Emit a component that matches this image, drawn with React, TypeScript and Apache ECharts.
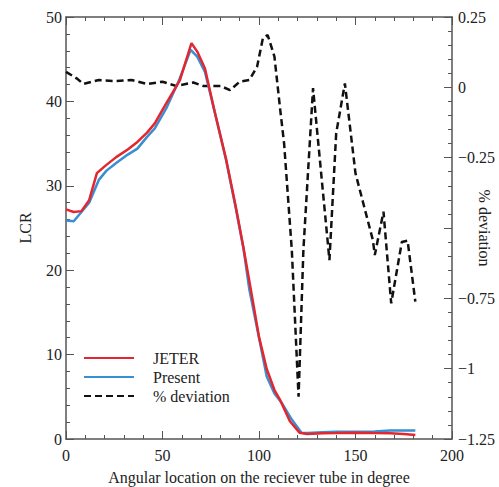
import React, { useEffect, useRef } from "react";
import * as echarts from "echarts";

const jeterX = [0, 4, 8, 12, 16, 20, 26, 32, 37, 42, 46, 52, 59, 65, 68, 72, 77, 83, 88, 92, 97, 100, 104, 108, 111, 116, 121, 125, 133, 140, 150, 160, 168, 175, 181];
const jeterY = [27.2, 26.9, 27.0, 28.3, 31.5, 32.3, 33.4, 34.3, 35.2, 36.3, 37.4, 39.8, 42.5, 46.9, 45.9, 43.9, 38.8, 33.1, 27.5, 22.6, 16.1, 12.1, 8.3, 5.8, 4.6, 2.1, 0.75, 0.6, 0.67, 0.7, 0.75, 0.7, 0.67, 0.6, 0.47];

const presentX = [0, 4, 8, 12, 17, 21, 26, 32, 37, 42, 46, 52, 58, 64.6, 68, 72, 77, 83, 88, 92, 95, 100, 104, 108, 112, 117, 122, 125, 133, 140, 150, 160, 168, 175, 181];
const presentY = [25.9, 25.8, 26.9, 28.0, 30.7, 31.8, 32.7, 33.7, 34.4, 35.8, 36.8, 39.2, 42.2, 46.1, 45.3, 43.5, 38.8, 33.0, 27.3, 22.5, 17.7, 12.0, 7.4, 5.4, 4.2, 2.3, 0.75, 0.7, 0.8, 0.85, 0.85, 0.9, 1.0, 1.0, 1.0];

const devX = [0, 5.5, 9, 17, 26, 34, 42, 50, 57, 66, 71, 80, 85, 90, 95, 99, 102, 104.5, 108, 111, 113, 117, 120.5, 123, 128, 136.5, 140, 144.5, 150, 159, 160, 164.5, 168.5, 174, 177, 181];
const devY = [0.055, 0.032, 0.012, 0.026, 0.022, 0.026, 0.012, 0.02, 0.005, 0.017, 0.005, 0.005, -0.01, 0.02, 0.026, 0.073, 0.174, 0.186, 0.109, -0.08, -0.199, -0.578, -1.1, -0.578, -0.003, -0.614, -0.163, 0.014, -0.306, -0.543, -0.596, -0.442, -0.768, -0.55, -0.545, -0.762];

const xTicks = [0, 50, 100, 150, 200];
const lcrTicks = [0, 10, 20, 30, 40, 50];
const devTicks = [-1.25, -1, -0.75, -0.5, -0.25, 0, 0.25];
// The reference hides the -0.5 label behind the axis name
const devHiddenLabels = [-0.5];

const FONT = "Liberation Serif";

const zip = (xs: number[], ys: number[]) => xs.map((x, i) => [x, ys[i]]);

export default function App() {
  const ref = useRef<HTMLDivElement>(null);
  useEffect(() => {
    if (!ref.current) return;
    const chart = echarts.init(ref.current, null, { renderer: "svg" });
    const axisLine = { show: true, onZero: false, lineStyle: { color: "#555", width: 1.5 } };
    const tick = { show: true, inside: true, length: 8, lineStyle: { color: "#555", width: 1 } };
    const minor = { show: true, splitNumber: 5, length: 4, lineStyle: { color: "#555", width: 1 } };
    const label = { color: "#222", fontFamily: FONT, fontSize: 16 };
    chart.setOption({
      animation: false,
      backgroundColor: "#fff",
      grid: {
        left: 66,
        right: 47,
        top: 17,
        bottom: 48,
        show: false,
        containLabel: false,
        outerBoundsMode: "none",
      },
      legend: {
        data: ["JETER", "Present", "% deviation"],
        orient: "vertical",
        left: 78,
        top: 345,
        itemWidth: 50,
        itemHeight: 2,
        itemGap: 3,
        textStyle: { fontFamily: FONT, fontSize: 16, color: "#222", padding: [0, 0, 0, 14] },
      },
      xAxis: [
        {
          type: "value",
          min: xTicks[0],
          max: xTicks[xTicks.length - 1],
          interval: 50,
          position: "bottom",
          name: "Angular location on the reciever tube in degree",
          nameLocation: "middle",
          nameGap: 30,
          nameMoveOverlap: false,
          nameTextStyle: { fontFamily: FONT, fontSize: 16, color: "#222" },
          axisLine,
          axisTick: tick,
          minorTick: minor,
          axisLabel: { ...label, margin: 8 },
          splitLine: { show: false },
        },
        {
          type: "value",
          min: xTicks[0],
          max: xTicks[xTicks.length - 1],
          interval: 50,
          position: "top",
          axisLine,
          axisTick: tick,
          minorTick: minor,
          axisLabel: { show: false },
          splitLine: { show: false },
        },
      ],
      yAxis: [
        {
          type: "value",
          min: lcrTicks[0],
          max: lcrTicks[lcrTicks.length - 1],
          interval: 10,
          position: "left",
          name: "LCR",
          nameLocation: "middle",
          nameGap: 33,
          nameRotate: 90,
          nameMoveOverlap: false,
          nameTextStyle: { fontFamily: FONT, fontSize: 16, color: "#222" },
          axisLine,
          axisTick: tick,
          minorTick: minor,
          axisLabel: { ...label, margin: 4 },
          splitLine: { show: false },
        },
        {
          type: "value",
          min: devTicks[0],
          max: devTicks[devTicks.length - 1],
          interval: 0.25,
          position: "right",
          name: "% deviation",
          nameLocation: "middle",
          nameGap: 24,
          nameRotate: -90,
          nameMoveOverlap: false,
          nameTextStyle: { fontFamily: FONT, fontSize: 16, color: "#222" },
          axisLine,
          axisTick: tick,
          minorTick: minor,
          axisLabel: {
            ...label,
            margin: 6,
            formatter: (v: number) =>
              devHiddenLabels.some((h) => Math.abs(h - v) < 1e-9)
                ? ""
                : String(v).replace("-", "\u2212"),
          },
          splitLine: { show: false },
        },
      ],
      series: [
        {
          name: "% deviation",
          type: "line",
          xAxisIndex: 0,
          yAxisIndex: 1,
          data: zip(devX, devY),
          showSymbol: false,
          symbol: "none",
          lineStyle: { color: "#111", width: 2.5, type: [7, 4] },
          itemStyle: { color: "#111" },
        },
        {
          name: "Present",
          type: "line",
          xAxisIndex: 0,
          yAxisIndex: 0,
          data: zip(presentX, presentY),
          showSymbol: false,
          symbol: "none",
          lineStyle: { color: "#3a8fd0", width: 2.5 },
          itemStyle: { color: "#3a8fd0" },
        },
        {
          name: "JETER",
          type: "line",
          xAxisIndex: 0,
          yAxisIndex: 0,
          data: zip(jeterX, jeterY),
          showSymbol: false,
          symbol: "none",
          lineStyle: { color: "#e3262f", width: 2.5 },
          itemStyle: { color: "#e3262f" },
        },
      ],
    });
    return () => chart.dispose();
  }, []);
  return (
    <div
      ref={ref}
      style={{ position: "fixed", left: 0, top: 0, width: 499, height: 487 }}
    />
  );
}
